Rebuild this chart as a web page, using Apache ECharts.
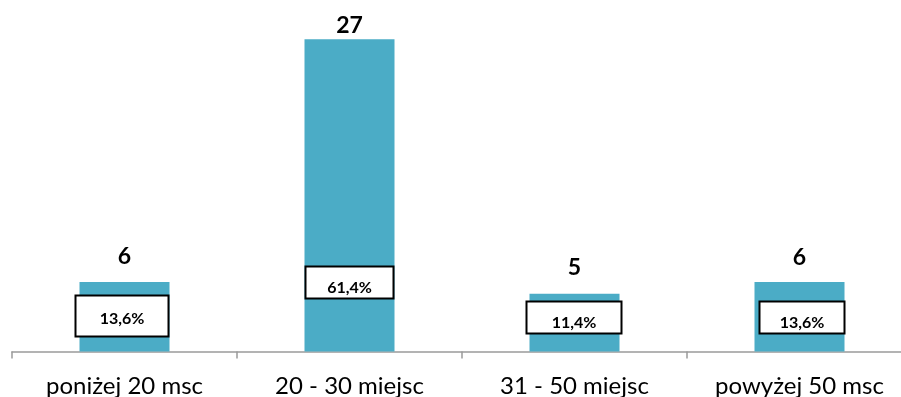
<!DOCTYPE html>
<html>
<head>
<meta charset="utf-8">
<script src="https://cdn.jsdelivr.net/npm/echarts@6/dist/echarts.min.js"></script>
<style>
  html, body { margin: 0; padding: 0; background: #ffffff; }
  #chart { width: 901px; height: 397px; }
</style>
</head>
<body>
<div id="chart"></div>
<script>
// Liczba obiektów wg liczby miejsc
const categories = ['poniżej 20 msc', '20 - 30 miejsc', '31 - 50 miejsc', 'powyżej 50 msc'];
const counts = [6, 27, 5, 6];
const shares = ['13,6%', '61,4%', '11,4%', '13,6%'];

// Placement of the labels (distance above the bar top / bar base, box size, shift)
const countLabelGap = [15, 3, 15, 14];
const shareBoxLayout = [
  { gap: 16, w: 91, padTop: 14, padBottom: 8, dx: -2.5 },
  { gap: 54, w: 86, padTop: 12, padBottom: 1, dx: 0 },
  { gap: 19, w: 93, padTop: 12, padBottom: 1, dx: -0.5 },
  { gap: 19, w: 83, padTop: 12, padBottom: 1, dx: 2.5 }
];

const FONT = 'Lato, "Open Sans", sans-serif';
const BAR = '#4BACC6';

const countData = counts.map((v, i) => ({
  value: v,
  label: { distance: countLabelGap[i] }
}));

const shareData = counts.map((v, i) => {
  const b = shareBoxLayout[i];
  return {
    value: v,
    label: {
      formatter: shares[i],
      distance: b.gap,
      width: b.w,
      offset: [b.dx, 0],
      padding: [b.padTop, 0, b.padBottom, 0]
    }
  };
});

const chart = echarts.init(document.getElementById('chart'), null, { renderer: 'canvas' });
chart.setOption({
  animation: false,
  backgroundColor: '#ffffff',
  grid: {
    left: 12, width: 900, top: 4.5, bottom: 45.5,
    containLabel: false,
    outerBoundsMode: 'none'
  },
  xAxis: {
    type: 'category',
    data: categories,
    boundaryGap: true,
    axisLine: { show: true, lineStyle: { color: '#9a9a9a', width: 1.5 } },
    axisTick: { show: true, length: 7, alignWithLabel: false, lineStyle: { color: '#9a9a9a', width: 1.5 } },
    axisLabel: {
      margin: 23,
      color: '#000000',
      fontFamily: FONT,
      fontSize: 24,
      lineHeight: 24,
      interval: 0
    }
  },
  yAxis: {
    type: 'value',
    min: 0,
    max: 30,
    show: false,
    splitLine: { show: false }
  },
  series: [
    {
      type: 'bar',
      data: countData,
      barWidth: 90,
      itemStyle: { color: BAR },
      label: {
        show: true,
        position: 'top',
        color: '#000000',
        fontFamily: FONT,
        fontWeight: 'bold',
        fontSize: 23,
        lineHeight: 22
      },
      z: 2
    },
    {
      type: 'bar',
      data: shareData,
      barWidth: 90,
      barGap: '-100%',
      itemStyle: { color: 'rgba(0,0,0,0)' },
      label: {
        show: true,
        position: 'insideBottom',
        color: '#000000',
        fontFamily: FONT,
        fontWeight: 'bold',
        fontSize: 16,
        lineHeight: 17,
        align: 'center',
        backgroundColor: '#ffffff',
        borderColor: '#000000',
        borderWidth: 2
      },
      z: 3
    }
  ]
});
</script>
</body>
</html>
